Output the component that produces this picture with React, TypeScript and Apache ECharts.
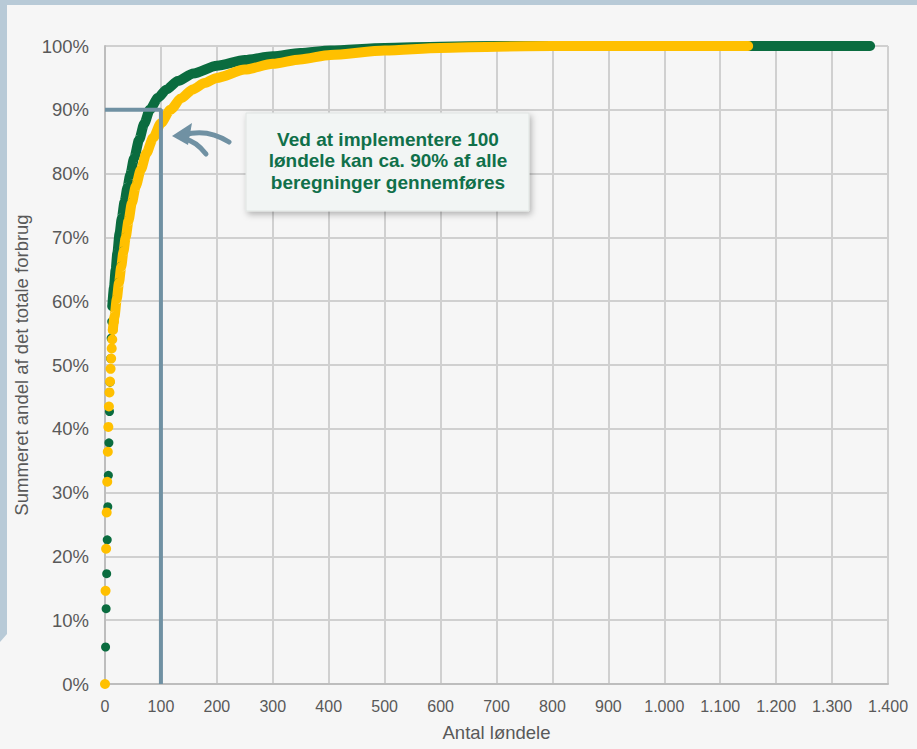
import React, { useEffect, useRef } from "react";
import * as echarts from "echarts";

// Discrete early points (x = løndel count, y = cumulative %)
const greenDots: [number, number][] = [
  [1, 5.8], [2, 11.8], [3, 17.3], [4, 22.6], [5, 27.8], [6, 32.7], [7, 37.8],
  [8, 42.7], [9, 47.3], [10, 51.0], [11, 54.2], [12, 56.8], [13, 59.2],
  [15, 61.0], [17, 63.0],
];
const greenCurve: [number, number][] = [
  [13, 59.2], [16, 62.1], [19, 64.9], [22, 67.5], [26, 70.6], [30, 73.0],
  [35, 75.6], [40, 77.8], [45, 79.8], [52, 82.4], [61, 85.3], [70, 87.8],
  [80, 90.0], [95, 91.9], [110, 93.2], [130, 94.5], [158, 95.7],
  [200, 96.9], [250, 97.8], [300, 98.4], [349, 98.9], [403, 99.3],
  [500, 99.7], [600, 99.9], [700, 100], [1368, 100],
];
const yellowDots: [number, number][] = [
  [0, 0], [1, 14.6], [2, 21.2], [3, 26.9], [4, 31.7], [5, 36.4], [6, 40.3],
  [7, 43.5], [8, 45.7], [9, 47.4], [10, 49.4], [11, 51.0], [12, 52.6],
  [13, 54.0], [14, 55.5], [16, 56.8],
];
const yellowCurve: [number, number][] = [
  [14, 55.5], [17, 57.6], [21, 60.3], [25, 62.9], [29, 65.4], [33, 67.8],
  [37, 70.0], [42, 72.6], [48, 75.4], [55, 78.0], [64, 80.6], [74, 83.2],
  [86, 85.6], [100, 87.9], [117, 90.0], [136, 91.8], [157, 93.2],
  [178, 94.2], [200, 95.0], [250, 96.3], [300, 97.2], [349, 97.9],
  [403, 98.6], [500, 99.3], [600, 99.7], [700, 99.9], [800, 100], [1150, 100],
];
const refLine: [number, number][] = [[0, 90], [100, 90], [100, 0]];

const xMin = 0, xMax = 1400, xStep = 100;
const yMin = 0, yMax = 100, yStep = 10;

const annotationLines = [
  "Ved at implementere 100",
  "løndele kan ca. 90% af alle",
  "beregninger gennemføres",
];
const xName = "Antal løndele";
const yName = "Summeret andel af det totale forbrug";

const GREEN = "#0a6c3f";
const YELLOW = "#ffc000";
const STEEL = "#7091a3";
const FONT = "Arial, 'Liberation Sans', sans-serif";

function fmtThousands(v: number): string {
  if (v >= 1000) {
    return Math.floor(v / 1000) + "." + String(v % 1000).padStart(3, "0");
  }
  return String(v);
}

export default function App() {
  const ref = useRef<HTMLDivElement>(null);
  useEffect(() => {
    if (!ref.current) return;
    const chart = echarts.init(ref.current, undefined, { renderer: "svg" });
    chart.setOption({
      animation: false,
      backgroundColor: "transparent",
      grid: { left: 105, right: 29, top: 46, bottom: 65, containLabel: false },
      xAxis: {
        type: "value",
        min: xMin,
        max: xMax,
        interval: xStep,
        name: xName,
        nameLocation: "middle",
        nameGap: 39,
        nameTextStyle: { color: "#595959", fontSize: 18.5, fontFamily: FONT },
        axisLine: { show: true, lineStyle: { color: "#bdbdbd", width: 2 } },
        axisTick: { show: false },
        axisLabel: {
          color: "#595959",
          fontSize: 16,
          fontFamily: FONT,
          margin: 14,
          formatter: (v: number) => fmtThousands(v),
        },
        splitLine: { show: true, lineStyle: { color: "#d0d0d0", width: 2 } },
      },
      yAxis: {
        type: "value",
        min: yMin,
        max: yMax,
        interval: yStep,
        name: yName,
        nameLocation: "middle",
        nameRotate: 90,
        nameGap: 72,
        nameTextStyle: { color: "#595959", fontSize: 18.5, fontFamily: FONT },
        axisLine: { show: true, lineStyle: { color: "#bdbdbd", width: 2 } },
        axisTick: { show: false },
        axisLabel: {
          color: "#595959",
          fontSize: 18.5,
          fontFamily: FONT,
          margin: 16,
          formatter: "{value}%",
        },
        splitLine: { show: true, lineStyle: { color: "#d0d0d0", width: 2 } },
      },
      series: [
        {
          type: "line",
          data: greenCurve,
          showSymbol: false,
          symbol: "none",
          smooth: 0.25,
          smoothMonotone: "x",
          lineStyle: { color: GREEN, width: 10, cap: "round", join: "round" },
          z: 2,
        },
        {
          type: "scatter",
          data: greenDots,
          symbolSize: 9,
          itemStyle: { color: GREEN, opacity: 1 },
          z: 2,
        },
        {
          type: "line",
          data: yellowCurve,
          showSymbol: false,
          symbol: "none",
          smooth: 0.25,
          smoothMonotone: "x",
          lineStyle: { color: YELLOW, width: 10, cap: "round", join: "round" },
          z: 3,
        },
        {
          type: "scatter",
          data: yellowDots,
          symbolSize: 10,
          itemStyle: { color: YELLOW, opacity: 1 },
          z: 3,
        },
        {
          type: "line",
          data: refLine,
          showSymbol: false,
          symbol: "none",
          lineStyle: { color: STEEL, width: 4 },
          z: 4,
        },
      ],
      graphic: [
        {
          type: "rect",
          z: -20,
          silent: true,
          shape: { x: 0, y: 0, width: 917, height: 749 },
          style: { fill: "#b8cad7" },
        },
        {
          type: "polygon",
          z: -19,
          silent: true,
          shape: {
            points: [[7, 5], [917, 5], [917, 749], [0, 749], [0, 642], [7, 634]],
          },
          style: { fill: "#f6f6f6" },
        },
        {
          type: "rect",
          z: 10,
          shape: { x: 246, y: 113, width: 283, height: 98 },
          style: {
            fill: "#f2f5f4",
            stroke: "#dfe4e2",
            lineWidth: 1,
            shadowBlur: 6,
            shadowColor: "rgba(0,0,0,0.28)",
            shadowOffsetX: 2,
            shadowOffsetY: 3,
          },
        },
        {
          type: "text",
          z: 11,
          style: {
            text: annotationLines.join("\n"),
            x: 388,
            y: 160.5,
            textAlign: "center",
            textVerticalAlign: "middle",
            font: "bold 19px " + FONT,
            lineHeight: 21.5,
            fill: "#10704a",
          },
        },
        {
          type: "bezierCurve",
          z: 10,
          shape: { x1: 229, y1: 142, cpx1: 207, cpy1: 128, x2: 184, y2: 135 },
          style: { stroke: STEEL, lineWidth: 5, lineCap: "round", fill: "none" },
        },
        {
          type: "bezierCurve",
          z: 10,
          shape: { x1: 184, y1: 139, cpx1: 196, cpy1: 141, x2: 206, y2: 154 },
          style: { stroke: STEEL, lineWidth: 5, lineCap: "round", fill: "none" },
        },
        {
          type: "polygon",
          z: 10,
          shape: { points: [[172, 136], [192, 123], [188, 145]] },
          style: { fill: STEEL },
        },
      ],
    });
    return () => chart.dispose();
  }, []);
  return (
    <div
      ref={ref}
      style={{ position: "absolute", left: 0, top: 0, width: 917, height: 749 }}
    />
  );
}
